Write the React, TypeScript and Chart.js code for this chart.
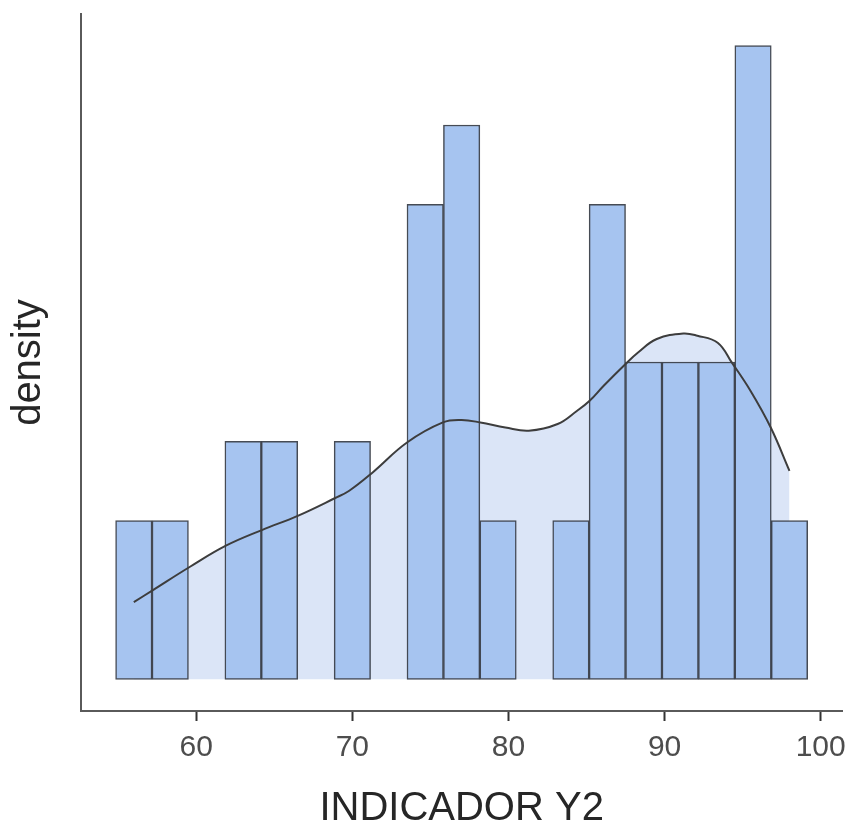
import React, { useEffect, useRef } from "react";
import { Chart, registerables } from "chart.js";

Chart.register(...registerables);

// Histogram bins (centre of each bin) and their density heights
const binCenters = [
  56, 58.333, 60.667, 63, 65.333, 67.667, 70, 72.333, 74.667, 77,
  79.333, 81.667, 84, 86.333, 88.667, 91, 93.333, 95.667, 98,
];
const binDensity = [
  0.0148, 0.0148, 0, 0.0222, 0.0222, 0, 0.0222, 0, 0.0443, 0.0517,
  0.0148, 0, 0.0148, 0.0443, 0.0296, 0.0296, 0.0296, 0.0591, 0.0148,
];

// Kernel density estimate
const kdeX = [
  56.0, 57.2, 59.6, 61.9, 64.2, 66.5, 68.9, 69.8, 71.3, 73.5, 75.8, 77.0, 78.2,
  79.8, 81.3, 83.15, 84.4, 85.2, 86.1, 87.5, 88.3, 89.5, 91.2, 92.1, 93.4,
  94.3, 95.5, 96.8, 98.0,
];
const kdeY = [
  0.0072, 0.0083, 0.0105, 0.01246, 0.01392, 0.01525, 0.01691, 0.01759, 0.0193,
  0.02209, 0.02396, 0.02418, 0.02396, 0.02349, 0.02319, 0.02381, 0.02505,
  0.02598, 0.02738, 0.02941, 0.03049, 0.03174, 0.03226, 0.03205, 0.0314,
  0.02956, 0.02692, 0.02349, 0.01945,
];

// Axis settings
const xTicks = [60, 70, 80, 90, 100];
const xMin = 52.617;
const xMax = 101.383;
const yMin = -0.002955;
const yMax = 0.062055;
const xTitle = "INDICADOR Y2";
const yTitle = "density";

const FONT = "'Liberation Sans', Arial, sans-serif";

export default function App() {
  const canvasRef = useRef<HTMLCanvasElement | null>(null);

  useEffect(() => {
    const canvas = canvasRef.current;
    if (!canvas) return;

    const bars = binCenters.map((x, i) => ({ x, y: binDensity[i] }));
    const kde = kdeX.map((x, i) => ({ x, y: kdeY[i] }));

    const chart = new Chart(canvas, {
      type: "bar",
      data: {
        datasets: [
          {
            type: "line",
            label: "kde-line",
            data: kde,
            borderColor: "#3d3d3d",
            borderWidth: 2,
            pointRadius: 0,
            fill: false,
            tension: 0.4,
            order: 0,
          },
          {
            type: "bar",
            label: "hist",
            data: bars,
            backgroundColor: "#a6c4f0",
            borderColor: "rgba(50,55,65,0.9)",
            borderWidth: 1.5,
            borderSkipped: false,
            categoryPercentage: 1,
            barPercentage: 1,
            order: 1,
          },
          {
            type: "line",
            label: "kde-fill",
            data: kde,
            borderWidth: 0,
            borderColor: "rgba(0,0,0,0)",
            backgroundColor: "#dbe5f7",
            pointRadius: 0,
            fill: "origin",
            tension: 0.4,
            order: 2,
          },
        ],
      },
      options: {
        animation: false,
        responsive: false,
        devicePixelRatio: 1,
        layout: { padding: { left: 0, right: 10, top: 14, bottom: 0 } },
        plugins: {
          legend: { display: false },
          tooltip: { enabled: false },
        },
        scales: {
          x: {
            type: "linear",
            min: xMin,
            max: xMax,
            offset: false,
            afterBuildTicks: (scale: any) => {
              scale.ticks = xTicks.map((v) => ({ value: v }));
            },
            ticks: {
              includeBounds: false,
              color: "#4d4d4d",
              padding: 9,
              font: { family: FONT, size: 30, lineHeight: 1.2 },
              maxRotation: 0,
            },
            grid: {
              display: true,
              offset: false,
              drawOnChartArea: false,
              drawTicks: true,
              tickLength: 10,
              tickWidth: 2,
              tickColor: "#333333",
            },
            border: { display: true, color: "#5a5a5a", width: 2 },
            title: {
              display: true,
              text: xTitle,
              color: "#262626",
              font: { family: FONT, size: 40, lineHeight: 0.9 },
              padding: { top: 16, bottom: 0 },
            },
          },
          y: {
            type: "linear",
            min: yMin,
            max: yMax,
            ticks: { display: false },
            grid: { display: false, drawTicks: false },
            border: { display: true, color: "#5a5a5a", width: 2 },
            title: {
              display: true,
              text: yTitle,
              color: "#262626",
              font: { family: FONT, size: 40, lineHeight: 1.2 },
              padding: { top: 5, bottom: 28 },
            },
          },
        },
      },
    } as any);

    return () => chart.destroy();
  }, []);

  return (
    <div style={{ position: "absolute", left: 0, top: 0, width: 855, height: 827, background: "#ffffff" }}>
      <canvas ref={canvasRef} width={855} height={827} style={{ display: "block" }} />
    </div>
  );
}
